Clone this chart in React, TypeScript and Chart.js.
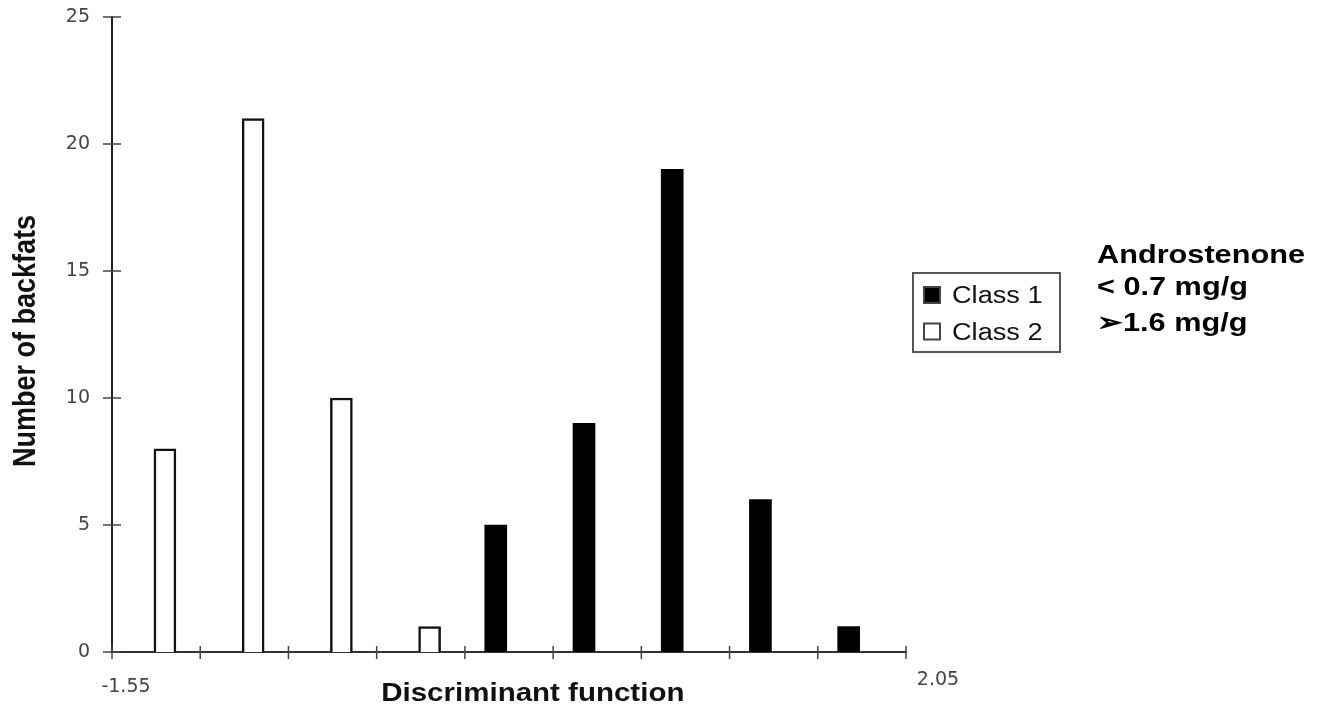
import { useEffect, useRef } from "react";
import { Chart, registerables } from "chart.js";

Chart.register(...registerables);

// Histogram of the discriminant function, one bar per bin
const class1X = [0.19, 0.59, 0.99, 1.39, 1.79];
const class1Counts = [5, 9, 19, 6, 1];
const class2X = [-1.31, -0.91, -0.51, -0.11];
const class2Counts = [8, 21, 10, 1];

const seriesLabels = ["Class 1", "Class 2"];
const xTickValues = [-1.55, -1.15, -0.75, -0.35, 0.05, 0.45, 0.85, 1.25, 1.65, 2.05];
const xEndLabels = ["-1.55", "2.05"];
const yTickStep = 5;
const yMax = 25;

const xTitle = "Discriminant function";
const yTitle = "Number of backfats";
const noteLines = ["Androstenone", "< 0.7 mg/g", "\u27A21.6 mg/g"];

const SANS = '"Liberation Sans", Arial, sans-serif';
const TICK_FONT = '"DejaVu Sans", sans-serif';
const STRETCH = 1.18;

function wideText(
  ctx: CanvasRenderingContext2D,
  text: string,
  x: number,
  y: number,
  font: string,
  align: CanvasTextAlign = "left",
  color = "#000"
) {
  ctx.save();
  ctx.font = font;
  ctx.fillStyle = color;
  ctx.textAlign = align;
  ctx.textBaseline = "alphabetic";
  ctx.translate(x, y);
  ctx.scale(STRETCH, 1);
  ctx.fillText(text, 0, 0);
  ctx.restore();
}

const decorations = {
  id: "decorations",
  afterDraw(chart: any) {
    const { ctx, chartArea } = chart;
    const xs = chart.scales.x;
    const ys = chart.scales.y;

    // tick marks crossing both axes
    ctx.save();
    ctx.strokeStyle = "#444";
    ctx.lineWidth = 1.5;
    for (const t of ys.ticks) {
      const py = ys.getPixelForValue(t.value);
      ctx.beginPath();
      ctx.moveTo(chartArea.left - 9, py);
      ctx.lineTo(chartArea.left + 9, py);
      ctx.stroke();
    }
    for (const t of xs.ticks) {
      const px = xs.getPixelForValue(t.value);
      ctx.beginPath();
      ctx.moveTo(px, chartArea.bottom - 6);
      ctx.lineTo(px, chartArea.bottom + 7);
      ctx.stroke();
    }
    ctx.restore();

    // end labels of the x axis
    ctx.save();
    ctx.font = `19px ${TICK_FONT}`;
    ctx.fillStyle = "#444";
    ctx.textAlign = "center";
    ctx.textBaseline = "middle";
    const first = xTickValues[0];
    const last = xTickValues[xTickValues.length - 1];
    ctx.fillText(xEndLabels[0], xs.getPixelForValue(first) + 14, chartArea.bottom + 35);
    ctx.fillText(xEndLabels[1], xs.getPixelForValue(last) + 32, chartArea.bottom + 28);
    ctx.restore();

    // axis titles
    wideText(ctx, xTitle, chartArea.left + chartArea.width * 0.53, 701, `bold 25px ${SANS}`, "center", "#111");
    ctx.save();
    ctx.font = `bold 27px ${SANS}`;
    ctx.fillStyle = "#111";
    ctx.textAlign = "center";
    ctx.textBaseline = "middle";
    ctx.translate(26, 341);
    ctx.rotate(-Math.PI / 2);
    ctx.scale(1, STRETCH);
    ctx.fillText(yTitle, 0, 0);
    ctx.restore();

    // legend box
    const lx = chartArea.right + 7;
    const ly = 273;
    ctx.save();
    ctx.strokeStyle = "#555";
    ctx.lineWidth = 2;
    ctx.strokeRect(lx, ly, 147, 79);
    chart.data.datasets.forEach((ds: any, i: number) => {
      const cy = 295 + i * 36.5;
      ctx.fillStyle = ds.backgroundColor;
      ctx.fillRect(lx + 11, cy - 8, 16, 16);
      ctx.strokeStyle = "#444";
      ctx.lineWidth = 2;
      ctx.strokeRect(lx + 11, cy - 8, 16, 16);
      wideText(ctx, ds.label, lx + 39, cy + 8, `23px ${SANS}`, "left", "#111");
    });
    ctx.restore();

    // note beside the legend
    const noteBaselines = [263, 295, 331];
    noteLines.forEach((line, i) => {
      wideText(ctx, line, 1097, noteBaselines[i], `bold 26px ${SANS}`, "left", "#000");
    });
  },
};

export default function App() {
  const canvasRef = useRef<HTMLCanvasElement | null>(null);

  useEffect(() => {
    document.body.style.margin = "0";
    const canvas = canvasRef.current;
    if (!canvas) return;

    const chart = new Chart(canvas, {
      type: "bar",
      data: {
        datasets: [
          {
            label: seriesLabels[0],
            data: class1X.map((x, i) => ({ x, y: class1Counts[i] })),
            backgroundColor: "#000",
            borderColor: "#000",
            borderWidth: 0,
          },
          {
            label: seriesLabels[1],
            data: class2X.map((x, i) => ({ x, y: class2Counts[i] })),
            backgroundColor: "#fff",
            borderColor: "#111",
            borderWidth: 2.5,
          },
        ],
      } as any,
      options: {
        responsive: false,
        animation: false,
        devicePixelRatio: 1,
        datasets: { bar: { grouped: false, barThickness: 22 } } as any,
        layout: { padding: { top: 17, right: 417, left: 0, bottom: 0 } },
        plugins: {
          legend: { display: false },
          tooltip: { enabled: false },
        },
        scales: {
          x: {
            type: "linear",
            min: xTickValues[0],
            max: xTickValues[xTickValues.length - 1],
            offset: false,
            grid: { display: false },
            border: { display: true, color: "#333", width: 2 },
            ticks: { display: false },
            afterBuildTicks: (axis: any) => {
              axis.ticks = xTickValues.map((value) => ({ value }));
            },
            afterFit: (axis: any) => {
              axis.height = 56;
            },
          },
          y: {
            min: 0,
            max: yMax,
            grid: { display: false },
            border: { display: true, color: "#222", width: 2 },
            ticks: {
              stepSize: yTickStep,
              padding: 14,
              color: "#444",
              font: { family: TICK_FONT, size: 19 },
            },
            afterFit: (axis: any) => {
              axis.width = 112;
              axis.paddingTop = 0;
              axis.paddingBottom = 0;
            },
          },
        } as any,
      },
      plugins: [decorations],
    });

    return () => chart.destroy();
  }, []);

  return (
    <div style={{ width: 1323, height: 708, background: "#fff" }}>
      <canvas ref={canvasRef} width={1323} height={708} style={{ display: "block" }} />
    </div>
  );
}
